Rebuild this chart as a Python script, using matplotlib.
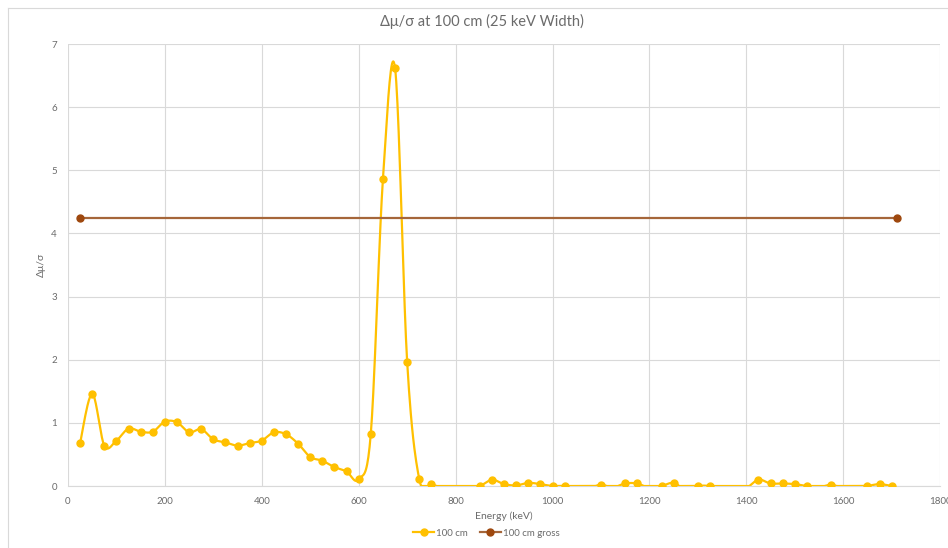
import numpy as np
import matplotlib.pyplot as plt
from matplotlib.lines import Line2D

plt.rcParams['font.family'] = ['Lato', 'DejaVu Sans']

# data
energy = [25, 50, 75, 100, 125, 150, 175, 200, 225, 250, 275, 300, 325, 350,
          375, 400, 425, 450, 475, 500, 525, 550, 575, 600, 625, 650, 675, 700,
          725, 750, 775, 800, 825, 850, 875, 900, 925, 950, 975, 1000, 1025,
          1050, 1075, 1100, 1125, 1150, 1175, 1200, 1225, 1250, 1275, 1300,
          1325, 1350, 1375, 1400, 1425, 1450, 1475, 1500, 1525, 1550, 1575,
          1600, 1625, 1650, 1675, 1700]
dmu_100cm = [0.68, 1.46, 0.64, 0.72, 0.91, 0.86, 0.86, 1.02, 1.01, 0.85, 0.90,
             0.74, 0.69, 0.64, 0.68, 0.72, 0.85, 0.82, 0.67, 0.46, 0.40, 0.30,
             0.23, 0.11, 0.83, 4.86, 6.62, 1.97, 0.11, 0.03, -0.03, -0.05,
             -0.03, 0.00, 0.10, 0.03, 0.01, 0.05, 0.03, 0.00, 0.00, -0.04,
             -0.03, 0.02, -0.02, 0.04, 0.04, -0.03, 0.00, 0.05, -0.06, 0.00,
             0.00, -0.04, -0.05, -0.03, 0.10, 0.04, 0.04, 0.03, 0.00, -0.02,
             0.02, -0.03, -0.03, 0.00, 0.03, 0.00]
gross_energy = [25, 1710]
gross_value = [4.24, 4.24]

YELLOW = '#FFC000'
BROWN = '#9E480E'
GROSS_LINE = '#A5663A'
GREY = '#6B6B6B'


def smooth(x, y, n=20):
    # bezier smoothing like the spreadsheet "smoothed line"
    x = np.asarray(x, float)
    y = np.asarray(y, float)
    px = np.concatenate([[x[0]], x, [x[-1]]])
    py = np.concatenate([[y[0]], y, [y[-1]]])
    xs, ys = [], []
    t = np.linspace(0, 1, n, endpoint=False)
    for i in range(1, len(px) - 2):
        x0, x1, x2, x3 = px[i - 1], px[i], px[i + 1], px[i + 2]
        y0, y1, y2, y3 = py[i - 1], py[i], py[i + 1], py[i + 2]
        c1x, c1y = x1 + (x2 - x0) / 6, y1 + (y2 - y0) / 6
        c2x, c2y = x2 - (x3 - x1) / 6, y2 - (y3 - y1) / 6
        b0, b1, b2, b3 = (1 - t)**3, 3 * t * (1 - t)**2, 3 * t**2 * (1 - t), t**3
        xs.append(b0 * x1 + b1 * c1x + b2 * c2x + b3 * x2)
        ys.append(b0 * y1 + b1 * c1y + b2 * c2y + b3 * y2)
    xs.append([x[-1]])
    ys.append([y[-1]])
    return np.concatenate(xs), np.concatenate(ys)


fig = plt.figure(figsize=(9.48, 5.48), dpi=100)
ax = fig.add_axes([0.0717, 0.1131, 0.92, 0.8066])

sx, sy = smooth(energy, dmu_100cm)
ax.plot(sx, np.maximum(sy, 0), color=YELLOW, lw=1.6, zorder=3)
e = np.array(energy)
v = np.array(dmu_100cm)
shown = v >= 0
ax.plot(e[shown], v[shown], 'o', color=YELLOW, ms=5, zorder=4)

ax.plot(gross_energy, gross_value, '-', color=GROSS_LINE, lw=1.6, zorder=3)
ax.plot(gross_energy, gross_value, 'o', color=BROWN, ms=5, zorder=4)

ax.set_xlim(0, 1800)
ax.set_ylim(0, 7)
ax.set_xticks(range(0, 1801, 200))
ax.set_yticks(range(0, 8))
ax.grid(True, color='#D9D9D9', lw=0.8)
ax.set_axisbelow(True)
for s in ['top', 'right', 'left']:
    ax.spines[s].set_visible(False)
ax.spines['bottom'].set_color('#D9D9D9')
ax.tick_params(length=0, colors=GREY, labelsize=7, pad=8)

ax.set_xlabel('Energy (keV)', fontsize=7.5, color=GREY, labelpad=4)
ax.set_ylabel('Δμ/σ', fontsize=7.5, color=GREY, labelpad=4)
fig.suptitle('Δμ/σ at 100 cm (25 keV Width)', fontsize=10.5, color=GREY,
             y=0.975, x=0.508)

handles = [Line2D([], [], color=YELLOW, marker='o', lw=1.6, ms=5),
           Line2D([], [], color=GROSS_LINE, marker='o', mfc=BROWN,
                  mec=BROWN, lw=1.6, ms=5)]
fig.legend(handles, ['100 cm', '100 cm gross'], loc='center',
           bbox_to_anchor=(0.513, 0.027), ncol=2, frameon=False,
           fontsize=7, labelcolor=GREY, handlelength=2.2, columnspacing=1.2,
           handletextpad=0.2)

# chart area border
fig.add_artist(Line2D([0.008, 0.008], [0, 0.986], color='#D9D9D9', lw=0.8))
fig.add_artist(Line2D([0.008, 1], [0.986, 0.986], color='#D9D9D9', lw=0.8))

fig.savefig('out.png', dpi=100)
